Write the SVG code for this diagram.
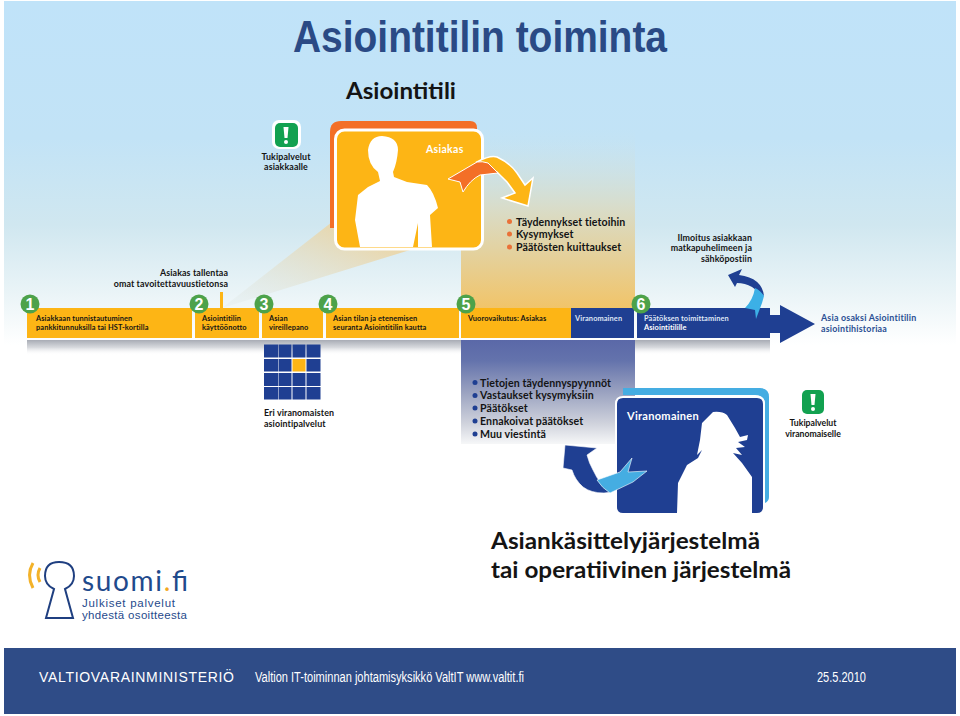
<svg xmlns="http://www.w3.org/2000/svg" width="960" height="716" viewBox="0 0 960 716">
<style>
text{font-family:Lato,"Open Sans","Liberation Sans",sans-serif;fill:#141414}
.b{font-weight:700}
.s{font-size:7.400px;font-weight:700;letter-spacing:.1px}
.t{font-size:8.700px;font-weight:700}
.m{font-size:8.900px;font-weight:700;letter-spacing:.1px}
.l{font-size:10.600px;font-weight:700;letter-spacing:.1px}
.num{font-size:16px;font-weight:700;fill:#fff;text-anchor:middle;font-family:"Liberation Sans",sans-serif}
.w{fill:#fff}
.g{fill:#4da24a}
.o{fill:#fdb515}
.n{fill:#1f3f92}
.ft{fill:#fff;font-family:"Liberation Sans",sans-serif;font-weight:400}
</style>
<defs>
<linearGradient id="bg" x1="0" y1="0" x2="0" y2="1"><stop offset="0" stop-color="#c0e3f9"/><stop offset=".4" stop-color="#c2e3f6"/><stop offset=".65" stop-color="#d0e7f0"/><stop offset=".85" stop-color="#eaf4f7"/><stop offset="1" stop-color="#ffffff"/></linearGradient>
<linearGradient id="col" x1="0" y1="0" x2="0" y2="1"><stop offset="0" stop-color="#c8e3ee" stop-opacity="0"/><stop offset=".45" stop-color="#d9dcc8"/><stop offset="1" stop-color="#f1c469"/></linearGradient>
<linearGradient id="beam" x1="0" y1="1" x2="1" y2="0"><stop offset="0" stop-color="#d8e6ea" stop-opacity=".2"/><stop offset="1" stop-color="#f2cf8c"/></linearGradient>
<linearGradient id="shadow" x1="0" y1="0" x2="0" y2="1"><stop offset="0" stop-color="#a8acb5"/><stop offset=".5" stop-color="#d8dade"/><stop offset="1" stop-color="#fff" stop-opacity="0"/></linearGradient>
<linearGradient id="purple" x1="0" y1="0" x2="0" y2="1"><stop offset="0" stop-color="#5a68a8"/><stop offset=".2" stop-color="#6473ac"/><stop offset=".5" stop-color="#9aa2c0"/><stop offset=".8" stop-color="#cfd2dc"/><stop offset="1" stop-color="#f6f7f8"/></linearGradient>
</defs>
<rect width="960" height="716" fill="#fff"/>
<rect x="4" y="1" width="952" height="344" fill="url(#bg)"/>
<g id="beams">
<polygon points="222,308 332,222 410,250" fill="url(#beam)"/>
<rect x="461" y="128" width="174" height="180" fill="url(#col)"/>
</g>
<g id="title">
<text x="293" y="52" font-size="44" font-weight="700" textLength="374" lengthAdjust="spacingAndGlyphs" style="font-family:'Liberation Sans',sans-serif;fill:#2a4a85">Asiointitilin toiminta</text>
<text x="346" y="99" class="b" font-size="22" textLength="110" lengthAdjust="spacingAndGlyphs">Asiointitili</text>
</g>
<g id="tuki-asiakas">
<rect x="272" y="120" width="29" height="29" rx="7" fill="#fff"/>
<rect x="275" y="123" width="23" height="24" rx="5" fill="#12a150"/>
<path d="M283.500 127h5l-1 11h-3z" class="w"/><circle cx="286" cy="142" r="2" class="w"/>
<text x="286" y="160" class="m" text-anchor="middle">Tukipalvelut</text>
<text x="286" y="170" class="m" text-anchor="middle">asiakkaalle</text>
</g>
<g id="asiakas">
<path d="M330 132q0-11 11-11h129q7 0 7 7v100h-147z" fill="#f36f27"/>
<rect x="335.500" y="130" width="147" height="119" rx="9" class="o" stroke="#fff" stroke-width="3"/>
<path d="M360 247L355 220L358 195L368 187L380 181L378 172Q368 165 368 150Q370 136 382 136Q398 137 398 150Q397 163 393 172L394 177L407 182L427 185Q434 192 438 208L430 215L432 247L418 247L418 223L413 247z" class="w"/>
<text x="426" y="153" style="fill:#fff" font-size="10.500" font-weight="700" letter-spacing=".3">Asiakas</text>
</g>
<g id="arrow-asiakas">
<path d="M477 162Q490 155 497 157Q510 163 517 173L525 185L533 178L528 206L502 198L515 193L507 182L497 172z" class="o" stroke="#fff" stroke-width="1.500"/>
<path d="M448 179L477 162Q482 161 488 163L498 173L480 175Q470 180 463 192L460 182z" fill="#f36f27" stroke="#fff" stroke-width="1"/>
</g>
<g id="list-asiakas">
<circle cx="509.500" cy="221.500" r="2.500" fill="#ea7138"/><circle cx="509.500" cy="234" r="2.500" fill="#ea7138"/><circle cx="509.500" cy="247" r="2.500" fill="#ea7138"/>
<text x="516" y="225.500" class="l">Täydennykset tietoihin</text>
<text x="516" y="238" class="l">Kysymykset</text>
<text x="516" y="250.800" class="l">Päätösten kuittaukset</text>
</g>
<g id="ilmoitus">
<text x="752" y="241" class="m" text-anchor="end">Ilmoitus asiakkaan</text>
<text x="752" y="251" class="m" text-anchor="end">matkapuhelimeen ja</text>
<text x="752" y="262" class="m" text-anchor="end">sähköpostiin</text>
</g>
<g id="tallentaa">
<text x="228" y="276" class="m" text-anchor="end">Asiakas tallentaa</text>
<text x="228" y="287" class="m" text-anchor="end">omat  tavoitettavuustietonsa</text>
<rect x="220" y="292" width="3" height="17" class="o"/>
</g>
<g id="shadows">
<rect x="27" y="340" width="292" height="15" fill="url(#shadow)"/>
<rect x="319" y="340" width="142" height="15" fill="url(#shadow)"/>
<rect x="635" y="340" width="135" height="15" fill="url(#shadow)"/>
<rect x="461" y="340" width="174" height="104" fill="url(#purple)"/>
</g>
<g id="bar">
<rect x="27" y="308" width="165" height="30" class="o"/>
<rect x="195" y="308" width="64" height="30" class="o"/>
<rect x="262" y="308" width="61" height="30" class="o"/>
<rect x="326" y="308" width="133" height="30" class="o"/>
<rect x="461" y="308" width="110" height="30" class="o"/>
<rect x="571" y="308" width="63" height="30" class="n"/>
<path d="M637 308h133v7h10v-10l35 19-35 19v-10h-10v5h-133z" class="n"/>
</g>
<g id="bar-labels">
<text x="36" y="321" class="s">Asiakkaan tunnistautuminen</text><text x="36" y="330" class="s">pankkitunnuksilla tai HST-kortilla</text>
<text x="202" y="321" class="s">Asiointitilin</text><text x="202" y="330" class="s">käyttöönotto</text>
<text x="269" y="321" class="s">Asian</text><text x="269" y="330" class="s">vireillepano</text>
<text x="333" y="321" class="s">Asian tilan ja etenemisen</text><text x="333" y="330" class="s">seuranta Asiointitilin kautta</text>
<text x="468" y="321" class="s">Vuorovaikutus: Asiakas</text>
<text x="575" y="321" class="s" style="fill:#dfe6f5">Viranomainen</text>
<text x="644" y="321" class="s" style="fill:#dfe6f5">Päätöksen toimittaminen</text><text x="644" y="330" class="s" style="fill:#fff">Asiointitilille</text>
</g>
<g id="step-1"><circle cx="30" cy="304" r="9.500" class="g"/><text x="30" y="310" class="num">1</text></g>
<g id="step-2"><circle cx="199" cy="304" r="9.500" class="g"/><text x="199" y="310" class="num">2</text></g>
<g id="step-3"><circle cx="264" cy="304" r="9.500" class="g"/><text x="264" y="310" class="num">3</text></g>
<g id="step-4"><circle cx="328" cy="304" r="9.500" class="g"/><text x="328" y="310" class="num">4</text></g>
<g id="step-5"><circle cx="466" cy="304" r="9.500" class="g"/><text x="466" y="310" class="num">5</text></g>
<g id="step-6"><circle cx="641" cy="304" r="9.500" class="g"/><text x="641" y="310" class="num">6</text></g>
<g id="arrow-ilmoitus">
<path d="M728 275L742 269L739 275Q762 278 764 296L752 287Q745 283 737 283L735 287z" class="n"/>
<path d="M755 288Q760 290 764 296L762 303L756 319L755 310L745 308Q753 300 755 288z" fill="#3cb0e6"/>
</g>
<g id="asia-osaksi">
<text x="821" y="321" font-size="8.900" font-weight="700" letter-spacing=".2" style="fill:#2a4f93">Asia osaksi Asiointitilin</text>
<text x="821" y="332" font-size="8.900" font-weight="700" letter-spacing=".2" style="fill:#2a4f93">asiointihistoriaa</text>
</g>
<g id="palvelut">
<path d="M264 344.500h14v13h-14zM278.500 344.500h13v13h-13zM292.500 344.500h13v13h-13zM306.500 344.500h14v13h-14zM264 359h14v12.500h-14zM278.500 359h13v12.500h-13zM306.500 359h14v12.500h-14zM264 373h14v13h-14zM278.500 373h13v13h-13zM292.500 373h13v13h-13zM306.500 373h14v13h-14zM264 387h14v12.500h-14zM278.500 387h13v12.500h-13zM292.500 387h13v12.500h-13zM306.500 387h14v12.500h-14z" class="n"/>
<rect x="292.500" y="359" width="13" height="12.500" class="o"/>
<text x="264" y="416" class="m">Eri viranomaisten</text>
<text x="264" y="427" class="m">asiointipalvelut</text>
</g>
<g id="list-viranomainen">
<circle cx="475" cy="382.500" r="2.500" class="n"/><circle cx="475" cy="395.500" r="2.500" class="n"/><circle cx="475" cy="408" r="2.500" class="n"/><circle cx="475" cy="421" r="2.500" class="n"/><circle cx="475" cy="434" r="2.500" class="n"/>
<text x="480" y="386.500" class="l">Tietojen täydennyspyynnöt</text>
<text x="480" y="399.300" class="l">Vastaukset kysymyksiin</text>
<text x="480" y="412.200" class="l">Päätökset</text>
<text x="480" y="425" class="l">Ennakoivat päätökset</text>
<text x="480" y="437.800" class="l">Muu viestintä</text>
</g>
<g id="viranomainen">
<path d="M623 388h137q9 0 9 9v100q0 4-4 6v-98q0-10-10-10h-132z" fill="#45ade2"/>
<path d="M623 397h134q7 0 7 7v103q0 7-7 7h-134q-7 0-7-7v-103q0-7 7-7z" class="n" stroke="#fff" stroke-width="2"/>
<path d="M677 513L678 483L687 465L698 458L702 450L697 455L700 440L702 423L713 412Q722 411 727 415L735 428L740 437L748 435L747 440L738 442L745 447L736 448L742 455L733 453L742 463L752 477L752 513z" class="w"/>
<text x="627" y="420" style="fill:#fff" font-size="11" font-weight="700" letter-spacing=".3">Viranomainen</text>
</g>
<g id="arrow-viranomainen">
<path d="M565 445L597 448L587 455Q589 463 593 470Q600 486 612 491Q609 493 604 493Q591 493 583 487Q575 480 572 470L563 468z" class="n" stroke="#fff" stroke-width=".6"/>
<path d="M597 480L620 472L632 458L628 472L647 471L633 482L610 493Q602 488 597 480z" fill="#45ade2" stroke="#fff" stroke-width=".6"/>
</g>
<g id="tuki-viranomainen">
<rect x="802" y="390" width="22" height="24" rx="5" fill="#12a150"/>
<path d="M810.500 394h5l-1 11h-3z" class="w"/><circle cx="813" cy="409" r="2" class="w"/>
<text x="813" y="426" class="t" text-anchor="middle">Tukipalvelut</text>
<text x="813" y="437" class="t" text-anchor="middle">viranomaiselle</text>
</g>
<g id="jarjestelma">
<text x="491" y="549" class="b" font-size="23" textLength="269" lengthAdjust="spacingAndGlyphs">Asiankäsittelyjärjestelmä</text>
<text x="491" y="578" class="b" font-size="23" textLength="300" lengthAdjust="spacingAndGlyphs">tai operatiivinen järjestelmä</text>
</g>
<g id="logo">
<path d="M33 563q-7 12 0 25M40 568q-4 7 0 14" fill="none" stroke="#f3b229" stroke-width="3"/>
<path d="M59 562q-14 0-14 14q0 9 9 13l-8 29h27l-8-29q9-4 9-13q0-14-15-14z" fill="#fff" stroke="#1f3f80" stroke-width="2"/>
<text x="82" y="591" font-size="28" textLength="106" style="fill:#1f4a8c;font-weight:400">suomi<tspan style="fill:#f3a81f">.</tspan>fi</text>
<text x="82" y="607" font-size="11.500" textLength="93" style="fill:#1f4a8c;font-family:'Liberation Sans',sans-serif">Julkiset palvelut</text>
<text x="82" y="619" font-size="11.500" textLength="105" style="fill:#1f4a8c;font-family:'Liberation Sans',sans-serif">yhdestä osoitteesta</text>
</g>
<g id="footer">
<rect x="4" y="648" width="952" height="66" fill="#2f4c87"/>
<text x="39" y="682" font-size="14" textLength="195" lengthAdjust="spacing" class="ft" style="font-family:'Liberation Sans Narrow','Liberation Sans',sans-serif">VALTIOVARAINMINISTERIÖ</text>
<text x="255" y="682" font-size="14" textLength="269" lengthAdjust="spacingAndGlyphs" class="ft">Valtion IT-toiminnan johtamisyksikkö  ValtIT www.valtit.fi</text>
<text x="817" y="682" font-size="14" textLength="49" lengthAdjust="spacingAndGlyphs" class="ft">25.5.2010</text>
</g>
</svg>
